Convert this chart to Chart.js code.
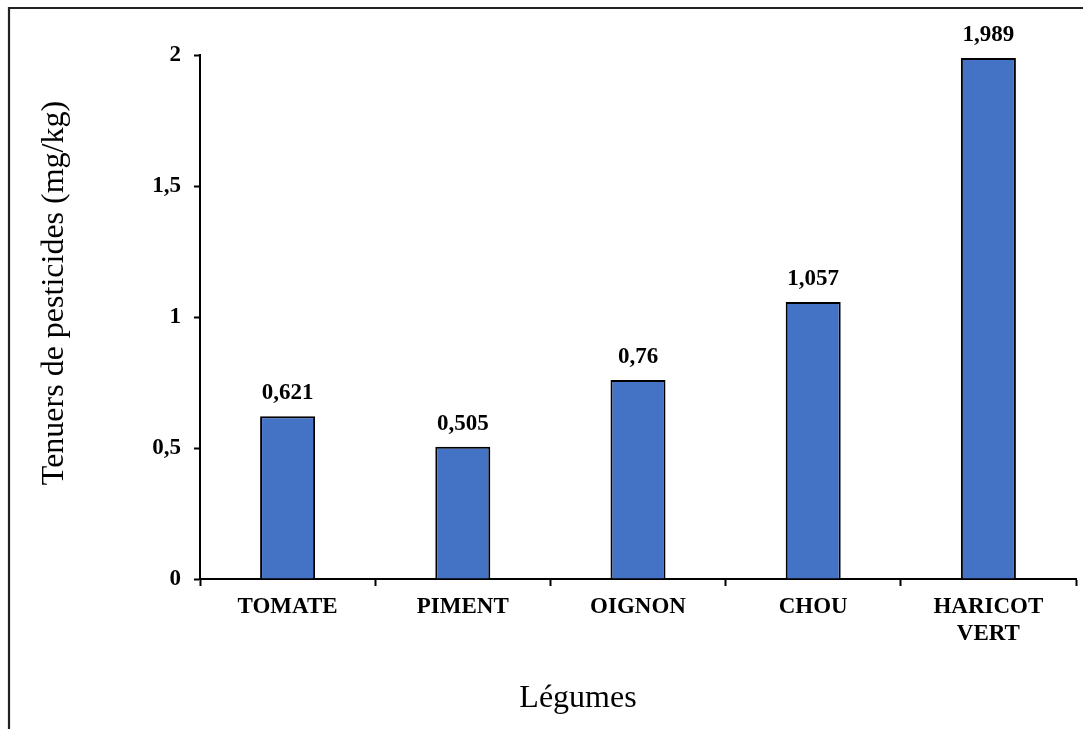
<!DOCTYPE html>
<html>
<head>
<meta charset="utf-8">
<script src="https://cdn.jsdelivr.net/npm/chart.js@4/dist/chart.umd.min.js"></script>
<style>
  html, body { margin: 0; padding: 0; background: #fff; overflow: hidden; }
  #wrap { position: relative; width: 1083px; height: 729px; }
</style>
</head>
<body>
<div id="wrap"><canvas id="c" width="1083" height="729"></canvas></div>
<script>
// Teneurs moyennes en résidus de pesticides par légume (mg/kg)
const categories = ["TOMATE", "PIMENT", "OIGNON", "CHOU", ["HARICOT", "VERT"]];
const teneurs = [0.621, 0.505, 0.76, 1.057, 1.989];
const yTicks = [0, 0.5, 1, 1.5, 2];
const xTitle = 'Légumes';
const yTitle = 'Tenuers de pesticides (mg/kg)';

const SERIF = '"Liberation Serif", "Times New Roman", Times, serif';
const frNum = v => String(v).replace('.', ',');

// Cadre extérieur et titres des axes
const framePlugin = {
  id: 'frame',
  beforeDraw(chart) {
    const ctx = chart.ctx;
    ctx.save();
    ctx.fillStyle = '#fff';
    ctx.fillRect(0, 0, chart.width, chart.height);
    ctx.strokeStyle = '#222';
    ctx.lineWidth = 2.2;
    ctx.beginPath();
    ctx.moveTo(9, chart.height + 5);
    ctx.lineTo(9, 8);
    ctx.lineTo(chart.width + 5, 8);
    ctx.stroke();
    ctx.restore();
  },
  afterDraw(chart) {
    const ctx = chart.ctx;
    ctx.save();
    ctx.fillStyle = '#000';
    ctx.font = '32px ' + SERIF;
    ctx.textAlign = 'center';
    ctx.textBaseline = 'alphabetic';
    ctx.fillText(xTitle, 578, 707);
    ctx.translate(63, 293);
    ctx.rotate(-Math.PI / 2);
    ctx.fillText(yTitle, 0, 0);
    ctx.restore();
  }
};

// Étiquettes de valeur au-dessus des barres
const valueLabels = {
  id: 'valueLabels',
  afterDatasetsDraw(chart) {
    const ctx = chart.ctx;
    const meta = chart.getDatasetMeta(0);
    ctx.save();
    ctx.font = 'bold 23px ' + SERIF;
    ctx.fillStyle = '#000';
    ctx.textAlign = 'center';
    ctx.textBaseline = 'alphabetic';
    meta.data.forEach((bar, i) => {
      ctx.fillText(frNum(teneurs[i]), bar.x, bar.y - 17);
    });
    ctx.restore();
  }
};

new Chart(document.getElementById('c'), {
  type: 'bar',
  data: {
    labels: categories,
    datasets: [{
      data: teneurs,
      backgroundColor: '#4472C4',
      borderColor: '#000',
      borderWidth: 2,
      borderSkipped: 'bottom',
      categoryPercentage: 1,
      barPercentage: 0.314
    }]
  },
  options: {
    responsive: false,
    animation: false,
    layout: { padding: { left: 0, top: 55, right: 7, bottom: 0 } },
    plugins: { legend: { display: false }, tooltip: { enabled: false } },
    scales: {
      x: {
        grid: {
          display: true, drawOnChartArea: false, drawTicks: true,
          tickLength: 7, tickWidth: 2, color: '#000', offset: true
        },
        border: { display: true, color: '#000', width: 2 },
        ticks: {
          color: '#000', padding: 7,
          font: { family: SERIF, size: 23, weight: 'bold', lineHeight: 1.2 },
          maxRotation: 0, autoSkip: false
        },
        afterFit(scale) { scale.height = 729 - 579; }
      },
      y: {
        min: 0, max: 2,
        afterBuildTicks(scale) { scale.ticks = yTicks.map(v => ({ value: v })); },
        grid: {
          display: true, drawOnChartArea: false, drawTicks: true,
          tickLength: 6, tickWidth: 2, color: '#000'
        },
        border: { display: true, color: '#000', width: 2 },
        ticks: {
          color: '#000', padding: 13,
          font: { family: SERIF, size: 23, weight: 'bold' },
          callback: v => frNum(v)
        },
        afterFit(scale) { scale.width = 200; }
      }
    }
  },
  plugins: [framePlugin, valueLabels]
});
</script>
</body>
</html>
